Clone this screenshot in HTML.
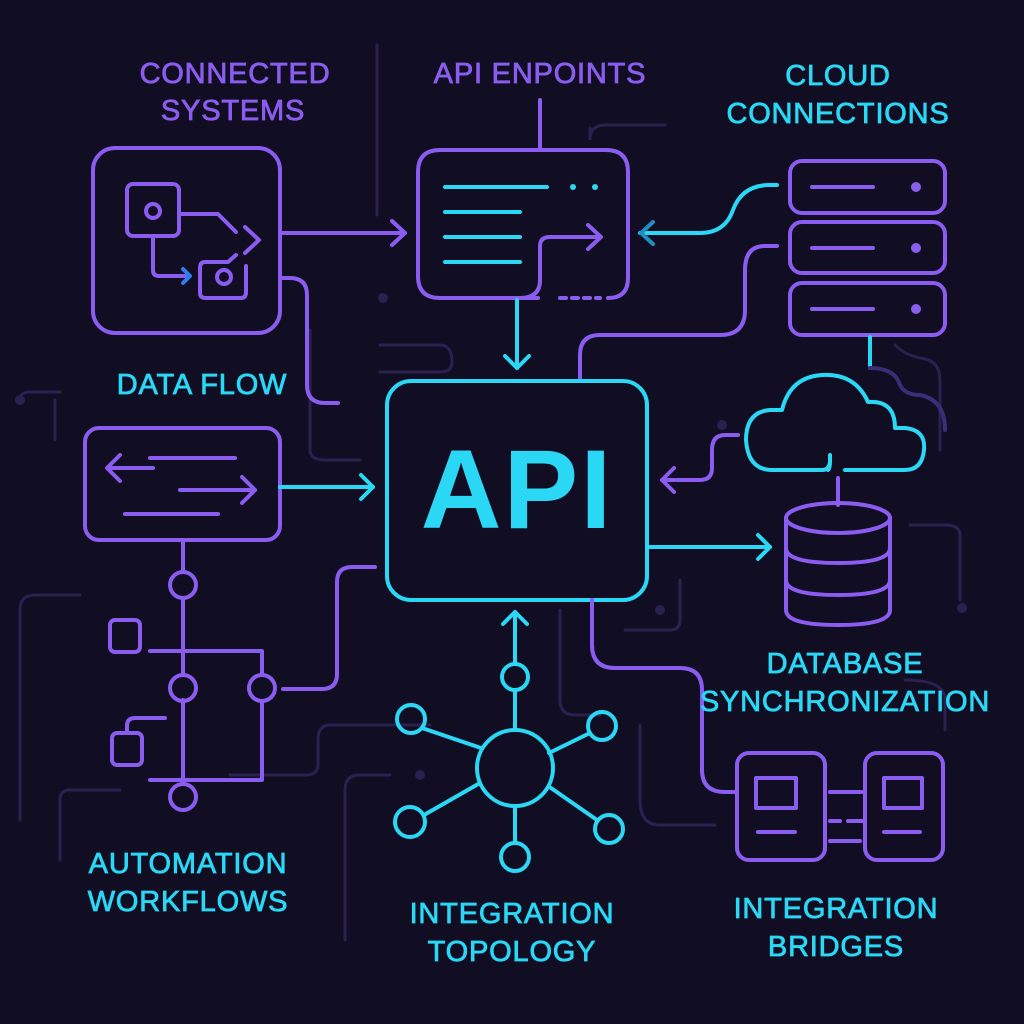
<!DOCTYPE html>
<html><head><meta charset="utf-8"><style>
html,body{margin:0;padding:0;background:#110d22;}
svg{display:block}
text{font-family:"Liberation Sans",sans-serif;letter-spacing:0.8px}
</style></head><body>
<svg width="1024" height="1024" viewBox="0 0 1024 1024" xmlns="http://www.w3.org/2000/svg">
<rect width="1024" height="1024" fill="#110d22"/>
<g fill="none" stroke="#2a2150" stroke-width="3" stroke-linecap="round">
<path d="M377 45 V215"/><path d="M590 128 V140 Q590 125 605 125 H665"/>
<path d="M380 372 H440 Q452 372 452 362 Q452 345 440 345 H380"/>
<path d="M310 330 V450 Q310 460 325 460 H360"/>
<path d="M940 450 V380 Q940 360 920 358 Q905 355 895 345"/>
<path d="M960 600 V535 Q960 525 945 525 H910"/>
<path d="M20 820 V610 Q20 595 35 595 H80"/>
<path d="M20 400 Q20 392 30 392 H60"/><path d="M55 440 V400"/>
<path d="M430 725 H330 Q318 725 318 740 V765 Q318 775 305 775 H230"/>
<path d="M345 940 V790 Q345 775 360 775 H390"/>
<path d="M560 610 V700 Q560 715 575 715 H600"/>
<path d="M640 725 V800 Q640 825 660 825 H715"/>
<path d="M680 580 V620 Q680 630 670 630 H625"/>
<path d="M905 680 Q945 680 945 700 V730"/>
<path d="M60 860 V800 Q60 790 70 790 H120"/>
</g>
<g fill="#2a2150"><circle cx="660" cy="610" r="5"/><circle cx="962" cy="608" r="5"/><circle cx="20" cy="400" r="5"/><circle cx="383" cy="298" r="5"/><circle cx="722" cy="425" r="5"/><circle cx="420" cy="775" r="5"/></g>

<g fill="none" stroke-linecap="round" stroke-linejoin="round" stroke-width="4">
<g stroke="#8b5cf0">
<rect x="93" y="148" width="187" height="185" rx="22"/>
<rect x="127" y="184" width="52" height="52" rx="6"/>
<circle cx="153" cy="211" r="7"/>
<path d="M179 214 H218 L236 232"/>
<path d="M245 227 L259 240 L245 253"/>
<path d="M236 255 L228 262 H205 Q200 262 200 268 V293 Q200 298 206 298 H241 Q246 298 246 292 V266"/>
<circle cx="224" cy="277" r="7"/>
<path d="M153 236 V270 Q153 276 159 276 H186"/>
<path d="M280 233 H405"/><path d="M392 221 L405 233 L392 245"/>
<path d="M280 278 H290 Q307 278 307 295 V385 Q307 403 325 403 H338"/>
</g>
<path d="M183 269 L190 276 L183 283" stroke="#2f7df0"/>

<g stroke="#8b5cf0">
<path d="M540 100 V150"/>
<path d="M440 150 H606 Q628 150 628 172 V278 Q628 298 608 298"/>
<path d="M538 298 H440 Q418 298 418 276 V172 Q418 150 440 150"/>
<path d="M520 298 Q540 298 540 280 V246 Q540 237 550 237 H600"/>
<path d="M588 225 L601 237 L588 249"/>
<path d="M560 298 H600" stroke-dasharray="6 6"/>
</g>
<g stroke="#2ad8f5">
<path d="M445 187 H547"/><path d="M445 212 H520"/><path d="M445 237 H520"/><path d="M445 262 H520"/>
</g>
<circle cx="573" cy="187" r="3" fill="#2ad8f5" stroke="none"/>
<circle cx="595" cy="187" r="3" fill="#2ad8f5" stroke="none"/>
<g stroke="#2ad8f5"><path d="M517 300 V368"/><path d="M505 356 L517 368 L529 356"/></g>

<g stroke="#2ad8f5"><path d="M640 233 H700 Q725 233 733 210 Q742 185 770 185 H777"/></g>
<path d="M653 222 L641 233 L653 244" stroke="#1e8fc0"/>
<g stroke="#8b5cf0">
<rect x="790" y="161" width="155" height="52" rx="12"/>
<rect x="790" y="222" width="155" height="51" rx="12"/>
<rect x="790" y="283" width="155" height="52" rx="12"/>
<path d="M812 187 H873"/><path d="M812 248 H873"/><path d="M812 309 H873"/>
<path d="M777 246 H765 Q745 246 745 270 V310 Q745 335 720 335 H600 Q580 335 580 355 V380"/>
</g>
<g fill="#8b5cf0" stroke="none"><circle cx="916" cy="187" r="5"/><circle cx="916" cy="248" r="5"/><circle cx="916" cy="309" r="5"/></g>
<path d="M870 337 V368" stroke="#2ad8f5"/>
<path d="M870 368 Q895 368 900 385 Q905 395 920 395 Q945 400 945 430" stroke="#3a2e78"/>

<path d="M828 470 Q830 468 830 462 V455 M845 470 H905 Q922 470 924 450 Q926 430 905 428 H895 Q895 400 868 402 Q855 373 822 375 Q790 377 782 410 H770 Q746 412 746 440 Q748 470 772 470 H822 Q830 470 830 460" stroke="#2ad8f5"/>
<g stroke="#8b5cf0"><path d="M738 435 H725 Q712 435 712 450 V468 Q712 480 700 480 H662"/><path d="M674 468 L662 480 L674 492"/></g>
<path d="M838 478 V505" stroke="#8b5cf0"/>
<g stroke="#8b5cf0">
<ellipse cx="838" cy="518" rx="52" ry="15"/>
<path d="M786 518 V610 Q786 625 838 625 Q890 625 890 610 V518"/>
<path d="M786 548 Q786 563 838 563 Q890 563 890 548"/>
<path d="M786 580 Q786 595 838 595 Q890 595 890 580"/>
</g>
<g stroke="#2ad8f5"><path d="M648 547 H770"/><path d="M758 535 L770 547 L758 559"/></g>

<rect x="387" y="381" width="260" height="219" rx="24" stroke="#2ad8f5"/>

<g stroke="#8b5cf0">
<rect x="85" y="428" width="195" height="112" rx="14"/>
<path d="M150 458 H235"/><path d="M108 468 H153"/><path d="M120 455 L107 468 L120 481"/>
<path d="M180 490 H255"/><path d="M242 477 L255 490 L242 503"/><path d="M125 514 H218"/>
</g>
<g stroke="#2ad8f5"><path d="M280 487 H373"/><path d="M361 475 L373 487 L361 499"/></g>

<g stroke="#8b5cf0">
<path d="M183 540 V572"/><circle cx="183" cy="585" r="13"/>
<path d="M183 598 V673"/><circle cx="183" cy="688" r="13"/>
<path d="M183 738 V784"/><circle cx="183" cy="797" r="13"/>
<rect x="110" y="620" width="30" height="32" rx="5"/>
<path d="M150 651 H262 V675"/><circle cx="262" cy="688" r="13"/>
<path d="M262 701 V780 H150"/>
<path d="M165 718 H135 Q127 718 127 726 V733"/>
<rect x="112" y="733" width="30" height="32" rx="5"/>
<path d="M183 738 V700"/>
<path d="M283 689 H322 Q337 689 337 674 V582 Q337 567 352 567 H375"/>
</g>

<g stroke="#2ad8f5">
<circle cx="515" cy="768" r="38"/>
<path d="M515 730 V690"/><circle cx="515" cy="677" r="13"/><path d="M515 664 V612"/><path d="M503 624 L515 612 L527 624"/>
<circle cx="411" cy="719" r="14"/><path d="M422 728 L481 748"/>
<circle cx="602" cy="726" r="14"/><path d="M590 733 L549 753"/>
<circle cx="410" cy="822" r="15"/><path d="M424 815 L480 783"/>
<circle cx="609" cy="829" r="14"/><path d="M597 820 L551 788"/>
<circle cx="515" cy="857" r="14"/><path d="M515 806 V843"/>
</g>

<g stroke="#8b5cf0">
<path d="M592 600 V645 Q592 668 615 668 H680 Q702 668 702 690 V770 Q702 792 725 792 H737"/>
<rect x="737" y="753" width="88" height="107" rx="12"/>
<rect x="865" y="753" width="78" height="107" rx="12"/>
<rect x="756" y="778" width="40" height="30"/>
<rect x="884" y="778" width="38" height="30"/>
<path d="M758 832 H795"/><path d="M884 832 H920"/>
<path d="M830 792 H862"/><path d="M830 821 H840"/><path d="M848 821 H862"/><path d="M830 841 H860"/>
</g>
</g>

<text x="517" y="528" text-anchor="middle" font-size="112" font-weight="bold" fill="#2ad8f5" style="letter-spacing:2px">API</text>

<g font-size="29" text-anchor="middle" stroke-width="0.8">
<text x="235" y="83" fill="#8b5cf0" stroke="#8b5cf0">CONNECTED</text>
<text x="233" y="120" fill="#8b5cf0" stroke="#8b5cf0">SYSTEMS</text>
<text x="540" y="83" fill="#8b5cf0" stroke="#8b5cf0">API ENPOINTS</text>
<g fill="#2ad8f5" stroke="#2ad8f5">
<text x="838" y="85">CLOUD</text>
<text x="838" y="123">CONNECTIONS</text>
<text x="202" y="394">DATA FLOW</text>
<text x="845" y="673">DATABASE</text>
<text x="845" y="711">SYNCHRONIZATION</text>
<text x="188" y="873">AUTOMATION</text>
<text x="188" y="911">WORKFLOWS</text>
<text x="512" y="923">INTEGRATION</text>
<text x="512" y="961">TOPOLOGY</text>
<text x="836" y="918">INTEGRATION</text>
<text x="836" y="956">BRIDGES</text>
</g>
</g>
</svg>
</body></html>
